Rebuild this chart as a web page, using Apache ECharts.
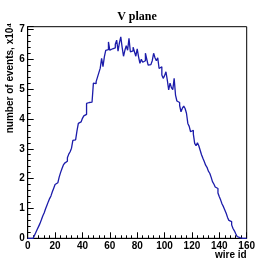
<!DOCTYPE html>
<html><head><meta charset="utf-8">
<script src="https://cdn.jsdelivr.net/npm/echarts@6/dist/echarts.min.js"></script>
<style>html,body{margin:0;padding:0;background:#fff}#c{width:274px;height:265px}</style>
</head><body><div id="c"></div>
<script>
// events per wire (units of 10^4), bin i covers wire [i, i+1)
const counts = [
 0,0,0,0,0.03,0.1,0.2,0.3,0.4,0.5,
 0.62,0.75,0.85,0.98,1.1,1.22,1.33,1.42,1.56,1.68,
 1.8,1.86,1.92,2.05,2.2,2.33,2.45,2.52,2.58,2.7,
 2.82,2.9,3.02,3.28,3.3,3.35,3.6,3.85,3.9,3.95,
 4.02,4.1,4.15,4.52,4.55,4.55,4.56,4.58,5.2,5.18,
 5.25,5.4,5.55,5.7,6.03,5.75,6.08,6.3,6.32,6.58,
 6.3,6.35,6.33,6.38,6.5,6.64,6.27,6.55,6.75,6.4,
 6.1,6.3,6.45,6.3,6.7,6.25,6.28,6.4,6.25,6.1,
 6.35,6.08,5.86,6.0,5.9,5.95,6.2,6.0,5.8,5.82,
 5.8,5.95,6.2,6.05,5.95,6.05,5.69,5.75,5.47,5.36,
 5.45,5.58,5.3,4.97,5.2,5.05,4.98,5.36,4.8,4.6,
 4.55,4.45,4.24,4.36,4.43,4.35,4.19,3.85,3.75,3.57,
 3.62,3.5,3.18,3.1,3.2,3.1,2.95,2.8,2.68,2.57,
 2.45,2.38,2.25,2.18,2.05,1.9,1.82,1.72,1.67,1.52,
 1.39,1.28,1.15,1.06,0.95,0.84,0.7,0.6,0.56,0.45,
 0.33,0.25,0.15,0.06,0.02,0,0,0,0,0
];
const xTicks = [0,20,40,60,80,100,120,140,160];
const yTicks = [0,1,2,3,4,5,6,7];
const titleText = 'V plane';
const xName = 'wire id';
const yName = 'number of events, x10\u2074';

const pts = counts.map((v,i)=>[i,v]);
pts.push([counts.length, counts[counts.length-1]]);

const chart = echarts.init(document.getElementById('c'), null, {renderer:'canvas'});
const axisFont = {fontFamily:'Liberation Sans', fontWeight:'bold', fontSize:10, color:'#000'};
chart.setOption({
  animation:false,
  backgroundColor:'#fff',
  title:{text:titleText, left:'center', top:6,
    textStyle:{fontFamily:'Liberation Serif', fontWeight:'bold', fontSize:12, color:'#000'}},
  grid:{left:27.7, right:27.3, top:26.7, bottom:26.7, show:true, borderColor:'#000', borderWidth:1, backgroundColor:'transparent'},
  xAxis:{type:'value', min:xTicks[0], max:xTicks[xTicks.length-1], interval:20,
    axisLine:{show:true, onZero:false, lineStyle:{color:'#000', width:1}},
    axisTick:{show:true, inside:true, length:6, lineStyle:{color:'#000'}},
    minorTick:{show:true, splitNumber:5, length:3, lineStyle:{color:'#000'}},
    splitLine:{show:false},
    axisLabel:Object.assign({margin:3}, axisFont)},
  yAxis:{type:'value', min:0, max:7.09, interval:1,
    axisLine:{show:true, lineStyle:{color:'#000', width:1}},
    axisTick:{show:true, inside:true, length:6, lineStyle:{color:'#000'}},
    minorTick:{show:true, splitNumber:5, length:3, lineStyle:{color:'#000'}},
    splitLine:{show:false},
    axisLabel:Object.assign({margin:3, showMaxLabel:false,
      formatter:v=>yTicks.indexOf(v)>=0?String(v):''}, axisFont)},
  graphic:[
    {type:'text', right:27.3, top:250, style:{text:xName, font:'bold 10px "Liberation Sans"', fill:'#000'}},
    {type:'text', x:10, y:78, rotation:Math.PI/2,
      style:{text:yName, font:'bold 10px "Liberation Sans"', fill:'#000', align:'center', verticalAlign:'middle'}}
  ],
  series:[{type:'line', step:'end', data:pts, symbol:'none',
    lineStyle:{color:'#1c1caa', width:1.3}}]
});
</script></body></html>
